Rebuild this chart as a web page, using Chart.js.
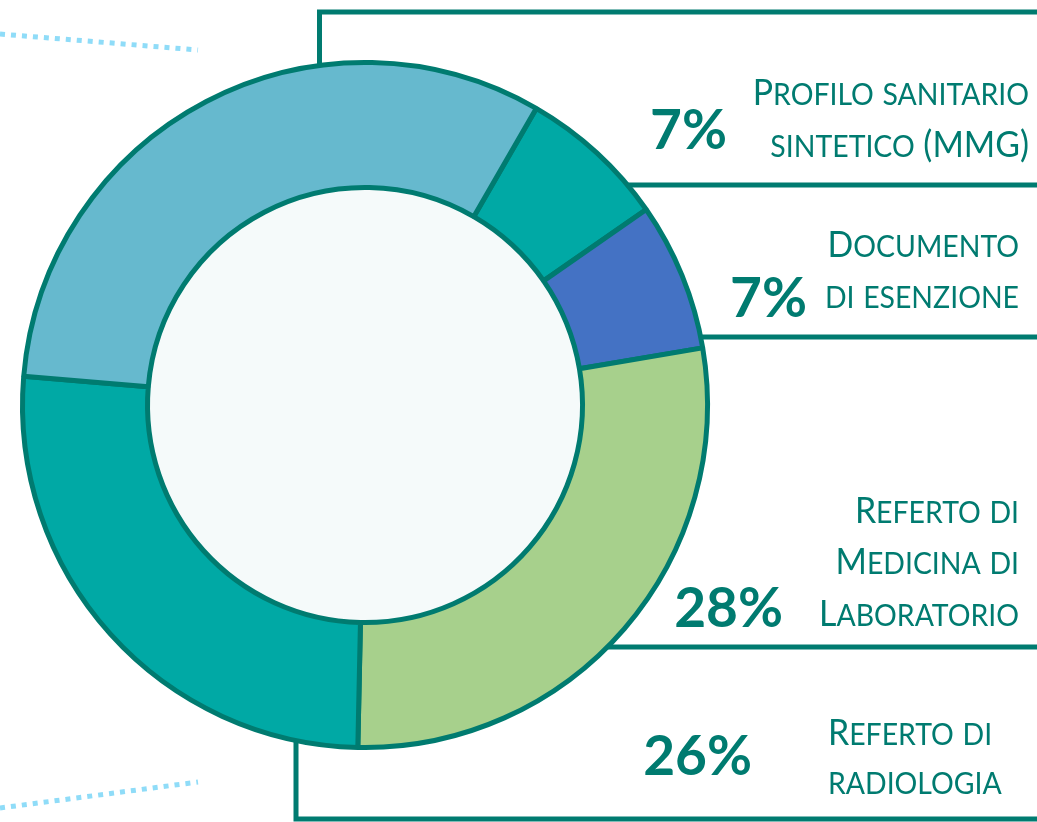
<!DOCTYPE html>
<html lang="it">
<head>
  <meta charset="UTF-8">
  <title>Documenti</title>
  <script src="https://cdn.jsdelivr.net/npm/chart.js@4.4.0/dist/chart.umd.min.js"></script>
  <style>
    * { box-sizing: border-box; margin: 0; padding: 0; }
    body { background: #fff; }
    #wrap { width: 1037px; height: 822px; position: relative; }
  </style>
</head>
<body>
  <div id="wrap"><canvas id="myChart"></canvas></div>

  <script>
    // data
    const categories = ['Profilo sanitario sintetico (MMG)', 'Documento di esenzione',
      'Referto di Medicina di Laboratorio', 'Referto di radiologia', 'Altri documenti'];
    const shares = [7, 7, 28, 26, 32];
    const pctLabels = ['7%', '7%', '28%', '26%', ''];
    const labelLines = [
      ['Profilo sanitario', 'sintetico (MMG)'],
      ['Documento', 'di esenzione'],
      ['Referto di', 'Medicina di', 'Laboratorio'],
      ['Referto di', 'radiologia'],
      []
    ];
    const colors = ['#00A9A5', '#4472C4', '#A7D08C', '#00A9A5', '#66B9CE'];

    const DARK = '#007B70';
    const FONT = 'Lato, "Open Sans", sans-serif';

    // where each text block sits (layout only)
    const blocks = [
      { align: 'right', x: 1029, base: [105, 157], px: 727, pb: 149 },
      { align: 'right', x: 1019, base: [257, 308], px: 807, pb: 317 },
      { align: 'right', x: 1019, base: [523, 574, 626], px: 783, pb: 627 },
      { align: 'left', x: 828, base: [745, 794], px: 752, pb: 775 },
      null
    ];

    // fake small caps, squeezed a bit to get closer to a narrow face
    function smallCaps(ctx, text, x, y, size, align) {
      let runs = [];
      for (const ch of text) {
        let small = ch !== ch.toUpperCase();
        let s = small ? size * 0.84 : size;
        let last = runs[runs.length - 1];
        if (last && last.s === s) last.t += ch.toUpperCase();
        else runs.push({ t: ch.toUpperCase(), s: s });
      }
      let total = 0;
      runs.forEach(r => {
        ctx.font = r.s + 'px ' + FONT;
        r.w = ctx.measureText(r.t).width;
        total += r.w;
      });
      ctx.save();
      ctx.translate(x, y);
      ctx.scale(0.94, 1);
      let cx = align === 'right' ? -total : 0;
      ctx.textAlign = 'left';
      runs.forEach(r => {
        ctx.font = r.s + 'px ' + FONT;
        ctx.fillText(r.t, cx, 0);
        cx += r.w;
      });
      ctx.restore();
    }

    const decor = {
      id: 'decor',
      beforeDatasetsDraw(chart) {
        let ctx = chart.ctx;
        let arc = chart.getDatasetMeta(0).data[0];
        ctx.save();
        // inner disc
        ctx.fillStyle = '#F5FAFA';
        ctx.beginPath();
        ctx.arc(arc.x, arc.y, arc.innerRadius, 0, Math.PI * 2);
        ctx.fill();

        // frame lines
        ctx.strokeStyle = DARK;
        ctx.lineWidth = 5;
        ctx.lineCap = 'butt';
        ctx.beginPath();
        ctx.moveTo(319.5, 120); ctx.lineTo(319.5, 12); ctx.lineTo(1040, 12);
        ctx.moveTo(580, 185); ctx.lineTo(1040, 185);
        ctx.moveTo(660, 337); ctx.lineTo(1040, 337);
        ctx.moveTo(560, 647); ctx.lineTo(1040, 647);
        ctx.moveTo(296, 700); ctx.lineTo(296, 819); ctx.lineTo(1040, 819);
        ctx.stroke();

        // dotted lines
        ctx.strokeStyle = '#8FDCF8';
        ctx.setLineDash([5, 6]);
        ctx.beginPath();
        ctx.moveTo(0, 34); ctx.lineTo(198, 50);
        ctx.moveTo(0, 808); ctx.lineTo(198, 782);
        ctx.stroke();
        ctx.restore();
      },
      afterDraw(chart) {
        let ctx = chart.ctx;
        ctx.save();
        ctx.fillStyle = DARK;
        ctx.textBaseline = 'alphabetic';
        blocks.forEach((b, i) => {
          if (!b) return;
          labelLines[i].forEach((line, j) => smallCaps(ctx, line, b.x, b.base[j], 36, b.align));
          ctx.font = 'bold 55px ' + FONT;
          ctx.textAlign = 'right';
          ctx.fillText(pctLabels[i], b.px, b.pb);
        });
        ctx.restore();
      }
    };

    new Chart(document.getElementById('myChart'), {
      type: 'doughnut',
      data: {
        labels: categories,
        datasets: [{
          data: shares,
          backgroundColor: colors,
          borderColor: DARK,
          borderWidth: 5
        }]
      },
      options: {
        responsive: true,
        maintainAspectRatio: false,
        animation: false,
        events: [],
        rotation: 30,
        cutout: '63.5%',
        layout: { padding: { left: 20, right: 327, top: 60, bottom: 72 } },
        plugins: { legend: { display: false }, tooltip: { enabled: false } }
      },
      plugins: [decor]
    });
  </script>
</body>
</html>
